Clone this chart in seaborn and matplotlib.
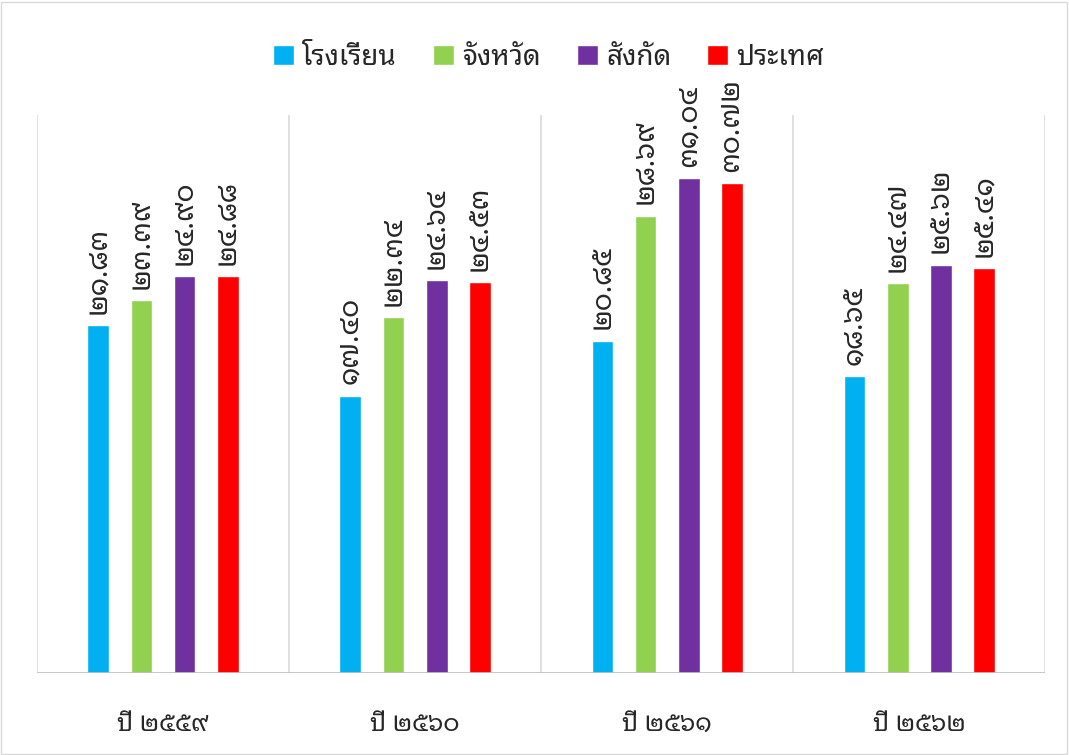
import matplotlib
matplotlib.use('Agg')
import matplotlib.pyplot as plt
from matplotlib.patches import Rectangle
import pandas as pd
import seaborn as sns

# คะแนนเฉลี่ย (อ่านจากภาพ)
years = ['ปี ๒๕๕๙', 'ปี ๒๕๖๐', 'ปี ๒๕๖๑', 'ปี ๒๕๖๒']
levels = ['โรงเรียน', 'จังหวัด', 'สังกัด', 'ประเทศ']
school = [21.83, 17.40, 20.85, 18.65]
province = [23.39, 22.34, 28.69, 24.47]
affiliation = [24.90, 24.64, 31.04, 25.62]
country = [24.88, 24.53, 30.72, 25.41]
colors = ['#00B0F0', '#92D050', '#7030A0', '#FF0000']

rows = []
for lv, vals in zip(levels, [school, province, affiliation, country]):
    for y, v in zip(years, vals):
        rows.append({'year': y, 'level': lv, 'score': v})
df = pd.DataFrame(rows)

sns.set_style('white')
plt.rcParams['font.family'] = ['Noto Sans Thai Looped', 'DejaVu Sans']

fig = plt.figure(figsize=(10.69, 7.55), dpi=100)
ax = fig.add_axes([0.0346, 0.1086, 0.9430, 0.7391])

sns.barplot(data=df, x='year', y='score', hue='level', order=years,
            hue_order=levels, palette=colors, width=0.683, gap=0.49,
            saturation=1, errorbar=None, ax=ax, zorder=3)

thai = str.maketrans('0123456789', '๐๑๒๓๔๕๖๗๘๙')
for cont in ax.containers:
    labs = [('%.2f' % b.get_height()).translate(thai) for b in cont]
    ax.bar_label(cont, labels=labs, rotation=90, padding=8, fontsize=20,
                 fontweight='light', color='#262626')

ax.set_ylim(0, 35)
ax.set_xlim(-0.5, 3.5)
for xv in [-0.5, 0.5, 1.5, 2.5, 3.5]:
    ax.axvline(xv, color='#d9d9d9', lw=1.2, zorder=1)
ax.axhline(0, color='#bfbfbf', lw=1.2, zorder=4)
sns.despine(ax=ax, left=True, bottom=True)
ax.set_yticks([])
ax.set_xlabel('')
ax.set_ylabel('')
ax.tick_params(axis='x', length=0, pad=28, labelsize=18, labelcolor='#262626')

ax.legend(loc='upper center', bbox_to_anchor=(0.513, 0.975),
          bbox_transform=fig.transFigure, ncol=4, frameon=False,
          prop={'size': 20, 'weight': 'light'},
          handlelength=0.75, handleheight=0.75,
          handletextpad=0.3, columnspacing=1.3, labelcolor='#262626')

fig.patches.append(Rectangle((0.001, 0.001), 0.997, 0.997, transform=fig.transFigure,
                             fill=False, edgecolor='#d9d9d9', lw=1))
fig.savefig('out.png', dpi=100)
